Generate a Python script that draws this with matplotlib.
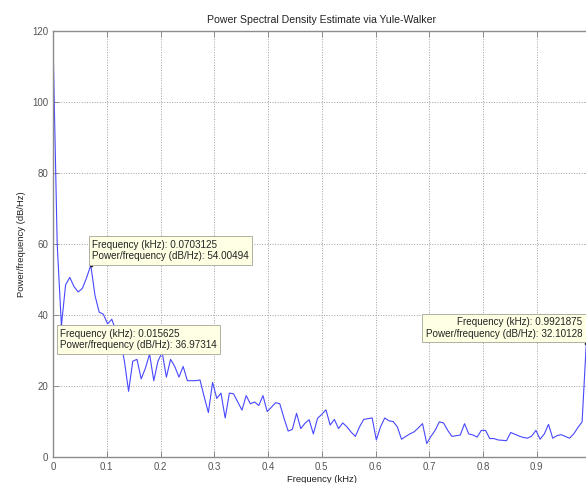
import numpy as np
import matplotlib
matplotlib.use("Agg")
import matplotlib.pyplot as plt

plt.rcParams['font.family'] = ['Liberation Sans', 'DejaVu Sans']

# Frequency grid, 129 bins from 0 to 1 kHz
nfft_bins = 129
freq_khz = np.arange(nfft_bins) / 128.0

# PSD values (dB/Hz)
psd_db = [
    117, 60, 36.97314, 48.5, 50.6, 48, 46.5, 47.5, 50.5, 54.00494,
    45.5, 40.8, 40.2, 37.5, 38.8, 35.5, 33.5, 27, 18.5, 27,
    27.5, 22, 25, 29, 21.5, 27, 29.5, 22.5, 27.5, 25.5,
    22.5, 25.5, 21.5, 21.5, 21.5, 21.7, 17, 12.5, 21, 16.5,
    18, 11, 18, 17.8, 15.5, 13.2, 17.3, 15, 15.5, 14.5,
    17.3, 12.8, 14, 15.3, 15, 11, 7.3, 7.8, 12.3, 8,
    9.5, 10.5, 6.5, 10.9, 12, 13.3, 9, 10.6, 8, 9.6,
    8.5, 7, 5.8, 8.5, 10.6, 10.8, 11, 4.8, 8.5, 11,
    10.2, 10, 8.5, 5, 5.8, 6.5, 7.1, 8.2, 9.4, 3.8,
    5.8, 7.5, 9.9, 9.6, 7.5, 5.8, 6, 6.2, 9.4, 6.5,
    6.2, 5.6, 7.5, 7.5, 5.2, 5.2, 4.8, 4.7, 4.6, 6.9,
    6.4, 5.9, 5.5, 5.3, 5.9, 7.5, 5.0, 6.5, 9.2, 5.3,
    6, 6.3, 5.8, 5.3, 6.5, 8.3, 9.9, 32.10128, 100,
]

# indices of the data tips shown
tip_idx = [9, 2, 127]
tip_labels = ["0.0703125", "0.015625", "0.9921875"]
tip_values = ["54.00494", "36.97314", "32.10128"]

fig = plt.figure(figsize=(5.86, 4.83), dpi=100)
ax = fig.add_axes([53 / 586, 26 / 483, 537.5 / 586, 426 / 483])

ax.plot(freq_khz, psd_db, color='#4848ff', linewidth=0.8)

ax.set_xlim(0, 1)
ax.set_ylim(0, 120)
ax.set_xticks(np.arange(0, 1.01, 0.1))
# the "1" label falls outside the picture in the reference
ax.set_xticklabels(['0', '0.1', '0.2', '0.3', '0.4', '0.5', '0.6', '0.7', '0.8', '0.9', ''])
ax.set_yticks(np.arange(0, 121, 20))

ax.grid(True, linestyle=':', color='#a0a0a0', linewidth=0.7)
for s in ax.spines.values():
    s.set_color('#8c8c8c')
    s.set_linewidth(1.0)
ax.tick_params(direction='in', length=4, width=0.7, colors='#8c8c8c',
               labelcolor='#555555', labelsize=7, top=True, right=True)

ax.set_title('Power Spectral Density Estimate via Yule-Walker', fontsize=7.6,
             color='#222222', pad=6)
ax.set_xlabel('Frequency (kHz)', fontsize=6.8, color='#222222', labelpad=2)
ax.set_ylabel('Power/frequency (dB/Hz)', fontsize=6.8, color='#222222', labelpad=4)

box = dict(boxstyle='square,pad=0.35', facecolor='#ffffe4', edgecolor='#b0b0a0',
           linewidth=0.7)
offsets = [((1, 3), 'left', 'bottom'), ((-1, -2), 'left', 'top'), ((-3, 3), 'right', 'bottom')]
for i, k in enumerate(tip_idx):
    x, y = freq_khz[k], psd_db[k]
    ax.plot(x, y, marker='s', markersize=2, color='#222222', clip_on=False)
    (dx, dy), ha, va = offsets[i]
    txt = ("Frequency (kHz): " + tip_labels[i] + "\n"
           "Power/frequency (dB/Hz): " + tip_values[i])
    ax.annotate(txt, xy=(x, y), xytext=(dx, dy), textcoords='offset points',
                ha=ha, va=va, multialignment=ha, fontsize=7.1,
                color='#222222', bbox=box, linespacing=1.2,
                annotation_clip=False)

fig.savefig('out.png', dpi=100)
